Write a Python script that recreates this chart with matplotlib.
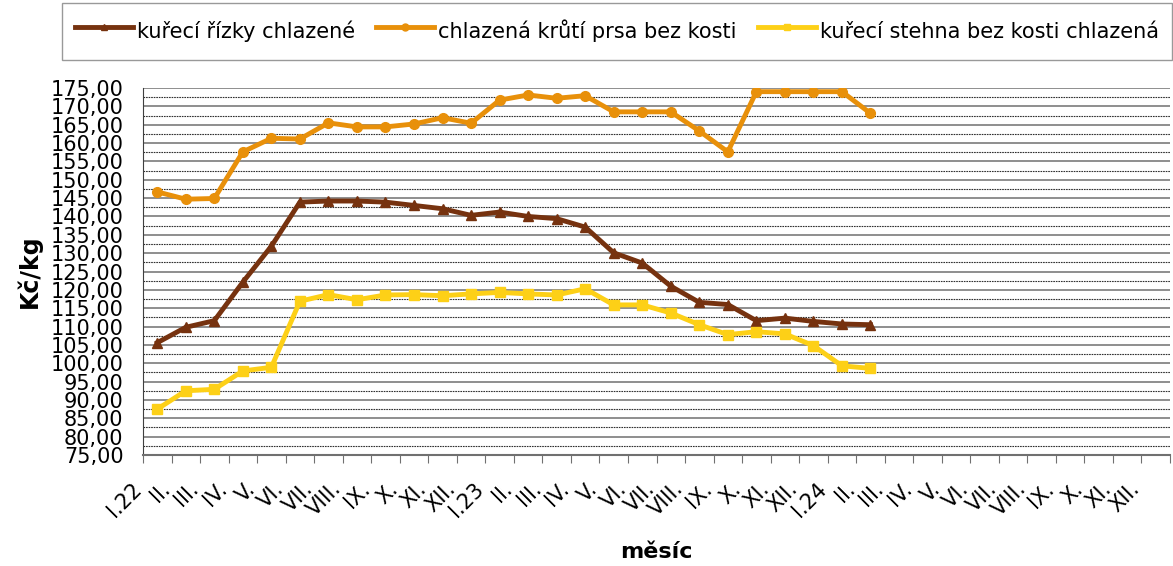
import matplotlib
matplotlib.use("Agg")
from matplotlib import pyplot as plt
from matplotlib.ticker import MultipleLocator, FuncFormatter
from matplotlib import transforms

months = ["I.22", "II.", "III.", "IV.", "V.", "VI.", "VII.", "VIII.", "IX.", "X.", "XI.", "XII.",
          "I.23", "II.", "III.", "IV.", "V.", "VI.", "VII.", "VIII.", "IX.", "X.", "XI.", "XII.",
          "I.24", "II.", "III.", "IV.", "V.", "VI.", "VII.", "VIII.", "IX.", "X.", "XI.", "XII."]

rizky = [105.6, 109.8, 111.6, 122.1, 131.9, 143.9, 144.2, 144.2, 143.9, 143.0, 142.1, 140.3,
         141.2, 140.0, 139.4, 137.1, 130.1, 127.3, 121.0, 116.6, 116.0, 111.6, 112.3, 111.4,
         110.7, 110.5]
krut_prsa = [146.7, 144.7, 144.9, 157.6, 161.3, 161.1, 165.5, 164.4, 164.4, 165.2, 166.9, 165.4,
             171.7, 173.1, 172.2, 172.9, 168.5, 168.5, 168.5, 163.3, 157.6, 174.0, 174.0, 174.0,
             174.0, 168.1]
stehna = [87.5, 92.5, 92.9, 97.9, 98.9, 116.9, 118.7, 117.3, 118.6, 118.7, 118.4, 118.9,
          119.3, 118.9, 118.6, 120.3, 115.9, 115.9, 113.7, 110.5, 107.8, 108.6, 108.0, 104.8,
          99.3, 98.6]

names = ["kuřecí řízky chlazené", "chlazená krůtí prsa bez kosti", "kuřecí stehna bez kosti chlazená"]
colors = ["#76320f", "#e8900a", "#fdd017"]
markers = ["^", "o", "s"]

W, H = 1173, 566
fig = plt.figure(figsize=(W / 100, H / 100), dpi=100)
ax = fig.add_axes([143 / W, 1 - 455 / H, (1170 - 143) / W, (455 - 88) / H])

for vals, name, c, m in zip([rizky, krut_prsa, stehna], names, colors, markers):
    ax.plot(range(len(vals)), vals, color=c, lw=3.5, marker=m, ms=7, label=name)

ax.set_xlim(-0.5, len(months) - 0.5)
ax.set_ylim(75, 175)
ax.yaxis.set_major_locator(MultipleLocator(5))
ax.yaxis.set_minor_locator(MultipleLocator(2.5))
ax.yaxis.set_major_formatter(FuncFormatter(lambda v, p: f"{v:.2f}".replace(".", ",")))
ax.grid(axis="y", which="major", color="#707070", lw=1.1)
ax.grid(axis="y", which="minor", color="#303030", lw=0.8, ls=(0, (1.5, 0.8)))
ax.set_axisbelow(True)

# category boundaries as ticks, labels at centres
ax.set_xticks([i - 0.5 for i in range(len(months) + 1)])
ax.set_xticklabels([])
ax.set_xticks(range(len(months)), minor=True)
ax.set_xticklabels(months, minor=True, rotation=45, ha="right", rotation_mode="anchor", fontsize=15)
ax.tick_params(axis="x", which="major", length=6, color="#707070")
ax.tick_params(axis="x", which="minor", length=0, pad=17)
offset = transforms.ScaledTranslation(-26 / 100, 0, fig.dpi_scale_trans)
for lab in ax.get_xticklabels(minor=True):
    lab.set_transform(lab.get_transform() + offset)
ax.tick_params(axis="y", which="both", length=0, labelsize=15, pad=14)

for s in ["top", "right"]:
    ax.spines[s].set_visible(False)
ax.spines["left"].set_color("#404040")
ax.spines["bottom"].set_color("#707070")
ax.spines["bottom"].set_linewidth(1.5)

ax.set_ylabel("Kč/kg", fontsize=17, fontweight="bold")
ax.yaxis.set_label_coords(-(143 - 42) / (1170 - 143), 0.5)
ax.set_xlabel("měsíc", fontsize=16, fontweight="bold", va="center")
ax.xaxis.set_label_coords(0.5, -(552 - 455) / (455 - 88))

leg = fig.legend(loc="upper left", bbox_to_anchor=(62 / W, 1 - 3 / H),
                 ncol=3, fontsize=15, handlelength=2.8, handletextpad=0.2,
                 columnspacing=1.0, frameon=True, fancybox=False, borderaxespad=0,
                 borderpad=0.6, handleheight=2.0)
leg.get_frame().set_edgecolor("#808080")
leg.get_frame().set_linewidth(1.0)
for h in leg.legend_handles:
    h.set_markersize(5)

fig.savefig("out.png", dpi=100)
